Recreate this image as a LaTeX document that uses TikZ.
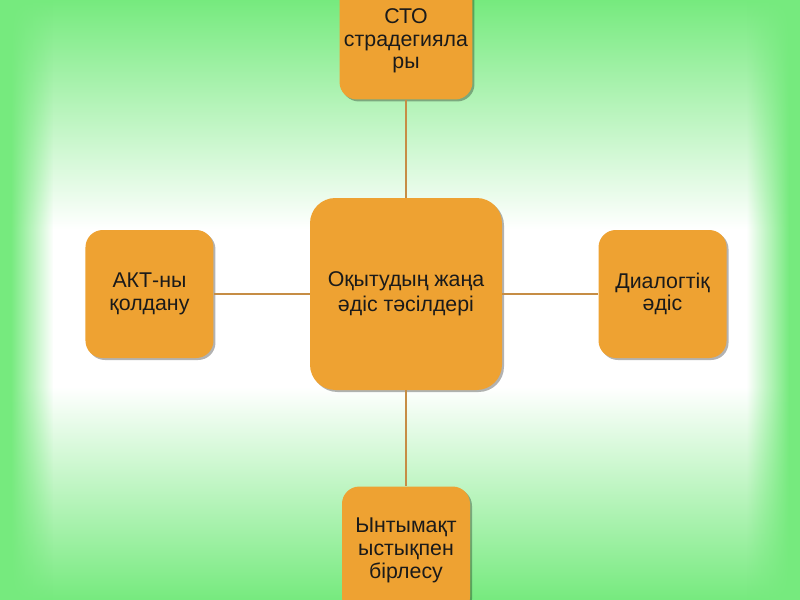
\documentclass[tikz,border=0pt]{standalone}
\usepackage{fontspec}
\setmainfont{Liberation Sans}
\usepackage{tikz}
\usetikzlibrary{positioning,shadows,fadings}
\definecolor{bggreen}{HTML}{76EA7E}
\definecolor{boxorange}{HTML}{EEA232}
\definecolor{linkbrown}{HTML}{C68D45}
\definecolor{textdark}{HTML}{1A1A1A}
\tikzfading[name=faderight, left color=transparent!0, right color=transparent!100]
\tikzfading[name=fadeleft, left color=transparent!100, right color=transparent!0]

\begin{document}
\begin{tikzpicture}[
    node distance=72pt,
    box/.style={
        rectangle, fill=boxorange, rounded corners=13pt,
        minimum width=96pt, minimum height=96pt, align=center,
        text=textdark, font=\fontsize{16}{17}\selectfont,
        drop shadow={shadow xshift=1.5pt, shadow yshift=-1.5pt, opacity=0.3, fill=black}
    },
    hubbox/.style={box, rounded corners=19pt, minimum width=144pt, minimum height=144pt,
        font=\fontsize{16}{18.5}\selectfont},
    link/.style={linkbrown, line width=1.1pt}
]
% background
\useasboundingbox (0,0) rectangle (600pt,-450pt);
\clip (0,0) rectangle (600pt,-450pt);
\fill[white] (0,0) rectangle (600pt,-450pt);
\shade[top color=bggreen, bottom color=white] (0,0) rectangle (600pt,-172pt);
\shade[top color=white, bottom color=bggreen] (0,-290pt) rectangle (600pt,-450pt);
\fill[bggreen] (0,0) rectangle (8pt,-450pt);
\fill[bggreen, path fading=faderight] (8pt,0) rectangle (40pt,-450pt);
\fill[bggreen] (592pt,0) rectangle (600pt,-450pt);
\fill[bggreen, path fading=fadeleft] (560pt,0) rectangle (592pt,-450pt);

\node[hubbox] (hub) at (304.5pt,-220.5pt) {Оқытудың жаңа\\әдіс тәсілдері};
\node[box, minimum height=88pt, above=73.5pt of hub] (cto) {СТО\\страдегияла\\ры};
\node[box, left=of hub]         (akt)    {АКТ-ны\\қолдану};
\node[box, right=of hub]        (dialog) {Диалогтіқ\\әдіс};
\node[box, below=of hub]        (unity)  {Ынтымақт\\ыстықпен\\бірлесу};

\draw[link] (hub) -- (cto);
\draw[link] (hub) -- (akt);
\draw[link] (hub) -- (dialog);
\draw[link] (hub) -- (unity);
\end{tikzpicture}
\end{document}
